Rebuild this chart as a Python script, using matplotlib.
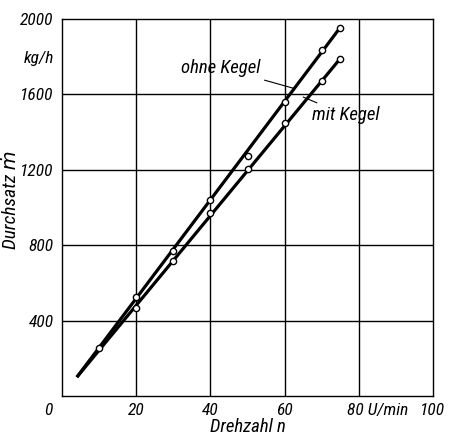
import matplotlib
matplotlib.use("Agg")
import matplotlib.pyplot as plt
from matplotlib import font_manager
import matplotlib.transforms as mtransforms

# Data
n_ohne = [10, 20, 30, 40, 50, 60, 70, 75]
m_ohne = [255, 525, 770, 1040, 1273, 1560, 1836, 1952]
n_mit = [20, 30, 40, 50, 60, 70, 75]
m_mit = [467, 716, 971, 1204, 1448, 1671, 1788]
line_ohne_n = [4, 75]
line_ohne_m = [100, 1955]
line_mit_n = [4, 75]
line_mit_m = [100, 1790]
xticks = [0, 20, 40, 60, 80, 100]
xtick_labels = ["0", "20", "40", "60", "80 U/min", "100"]
yticks = [400, 800, 1200, 1600, 1800, 2000]
ytick_labels = ["400", "800", "1200", "1600", "kg/h", "2000"]

entries = font_manager.fontManager.ttflist
names = {f.name for f in entries}
narrow = [f.name for f in entries if ('Condensed' in f.name or 'Narrow' in f.name)]
if 'Liberation Sans Narrow' in names:
    fam = ['Liberation Sans Narrow', 'DejaVu Sans']
elif 'Roboto Condensed' in names:
    fam = ['Roboto Condensed', 'DejaVu Sans']
elif narrow:
    fam = [narrow[0], 'DejaVu Sans']
else:
    fam = ['DejaVu Sans']
plt.rcParams['font.family'] = fam
plt.rcParams['font.style'] = 'italic'

fig = plt.figure(figsize=(4.49, 4.40), dpi=100)
ax = fig.add_axes([62/449, 1-396/440, (433-62)/449, (396-19)/440])
ax.set_xlim(0, 100)
ax.set_ylim(0, 2000)

for xv in [20, 40, 60, 80]:
    ax.axvline(xv, color='black', lw=1.0, zorder=1)
for yv in [400, 800, 1200, 1600]:
    ax.axhline(yv, color='black', lw=1.0, zorder=1)
for s in ax.spines.values():
    s.set_linewidth(1.0)

ax.plot(line_ohne_n, line_ohne_m, color='black', lw=2.3, zorder=2, solid_capstyle='butt')
ax.plot(line_mit_n, line_mit_m, color='black', lw=2.3, zorder=2, solid_capstyle='butt')
ax.plot(n_ohne, m_ohne, 'o', ms=4.5, mfc='white', mec='black', mew=1.0, zorder=3)
ax.plot(n_mit, m_mit, 'o', ms=4.5, mfc='white', mec='black', mew=1.0, zorder=3)

ax.set_xticks(xticks)
ax.set_xticklabels(xtick_labels)
ax.set_yticks(yticks)
ax.set_yticklabels(ytick_labels)
ax.tick_params(length=0, labelsize=12.5)
ax.tick_params(axis='x', pad=5)
ax.tick_params(axis='y', pad=6)
xl = ax.get_xticklabels()
xl[0].set_transform(xl[0].get_transform() + mtransforms.ScaledTranslation(-14/100, 0, fig.dpi_scale_trans))
xl[4].set_horizontalalignment('left')
xl[4].set_transform(xl[4].get_transform() + mtransforms.ScaledTranslation(-12/100, 0, fig.dpi_scale_trans))
ax.set_xlabel("Drehzahl n", fontsize=13.5, labelpad=0)
ax.set_ylabel("Durchsatz ṁ", fontsize=14)
ax.yaxis.set_label_coords(-0.112, 0.52)

ax.annotate("ohne Kegel", xy=(62.3, 1633), xytext=(53.6, 1740),
            fontsize=13.5, ha='right', va='center',
            arrowprops=dict(arrowstyle='-', color='black', lw=0.8, shrinkA=1, shrinkB=0))
ax.annotate("mit Kegel", xy=(65.0, 1586), xytext=(67.5, 1490),
            fontsize=13.5, ha='left', va='center',
            arrowprops=dict(arrowstyle='-', color='black', lw=0.8, shrinkA=1, shrinkB=0))

fig.savefig("out.png", dpi=100)
